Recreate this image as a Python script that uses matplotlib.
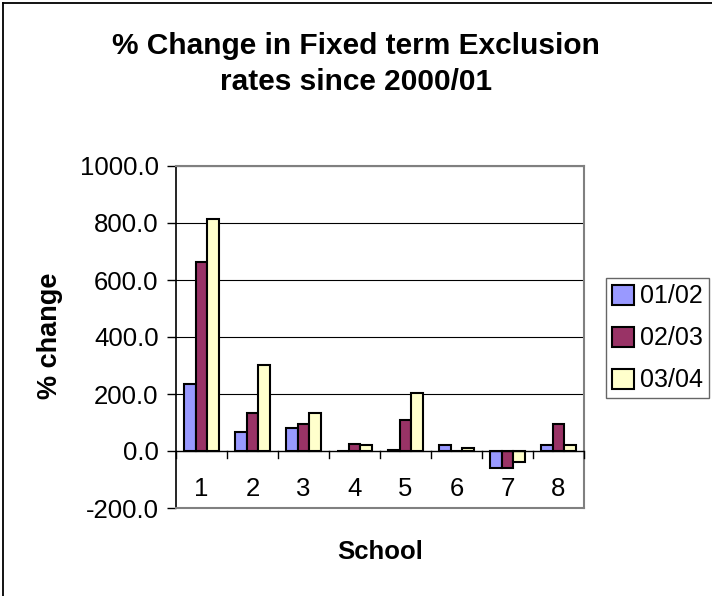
import numpy as np
import matplotlib.pyplot as plt
from matplotlib.transforms import offset_copy

plt.rcParams['font.family'] = ['Liberation Sans', 'DejaVu Sans']

schools = ['1', '2', '3', '4', '5', '6', '7', '8']
series_names = ['01/02', '02/03', '03/04']
chg_0102 = [235, 68, 82, 1, 2, 22, -60, 22]
chg_0203 = [664, 133, 94, 25, 108, 1, -60, 94]
chg_0304 = [813, 302, 134, 21, 202, 12, -37, 22]
colors = ['#9999FF', '#993366', '#FFFFCC']

W, H = 712, 596
fig = plt.figure(figsize=(W / 100, H / 100), dpi=100)
# plot area in pixels: left 176, right 584, top 166, bottom 508
ax = fig.add_axes([176 / W, 1 - 508 / H, (584 - 176) / W, (508 - 166) / H])

x = np.arange(len(schools))
bw = 0.23
for i, (vals, name) in enumerate(zip([chg_0102, chg_0203, chg_0304], series_names)):
    ax.bar(x + (i - 1) * bw, vals, width=bw, color=colors[i],
           edgecolor='black', linewidth=1.5, label=name, zorder=3)

ax.set_xlim(-0.5, len(schools) - 0.5)
ax.set_ylim(-200, 1000)
yt = np.arange(-200, 1001, 200)
ax.set_yticks(yt)
ax.set_yticklabels([f'{v:.1f}' for v in yt], fontsize=18.5)
for v in range(200, 1001, 200):
    ax.axhline(v, color='black', linewidth=0.8, zorder=1)

# category axis at zero
ax.axhline(0, color='black', linewidth=1.0, zorder=4)
ax.set_xticks([])
for k in range(len(schools) + 1):
    ax.plot([k - 0.5, k - 0.5], [0, -26], color='black', linewidth=1.0,
            clip_on=False, zorder=4)
lbl_tr = offset_copy(ax.transData, fig=fig, x=0, y=-19, units='points')
for k, s in enumerate(schools):
    ax.text(k, 0, s, ha='center', va='top', fontsize=18.5, transform=lbl_tr)

for side in ['top', 'right', 'bottom']:
    ax.spines[side].set_color('#808080')
    ax.spines[side].set_linewidth(1.5)
ax.spines['left'].set_color('black')
ax.spines['left'].set_linewidth(1.2)
ax.tick_params(axis='y', length=6.5, width=1.0, direction='out', pad=6)

fig.text(380 / W, 1 - 552 / H, 'School', ha='center', va='center',
         fontsize=18.5, fontweight='bold')
fig.text(50 / W, 1 - 336 / H, '% change', ha='center', va='center',
         fontsize=19.5, fontweight='bold', rotation=90)

fig.text(356 / W, 1 - 64 / H, '% Change in Fixed term Exclusion\nrates since 2000/01',
         ha='center', va='center', fontsize=21.5, fontweight='bold', linespacing=1.38)

leg = ax.legend(loc='upper left', bbox_to_anchor=(606 / W, 1 - 278 / H),
                bbox_transform=fig.transFigure, fontsize=18, frameon=True,
                fancybox=False, edgecolor='black', handlelength=0.85,
                handleheight=0.85, handletextpad=0.25, labelspacing=0.72,
                borderpad=0.25, borderaxespad=0)
leg.get_frame().set_linewidth(1.0)
leg.get_frame().set_edgecolor('#404040')

# outer chart border (left and top visible, right/bottom run off the image)
fig.add_artist(plt.Line2D([3 / W, 3 / W], [0, 1 - 3 / H], color='black', linewidth=1.3))
fig.add_artist(plt.Line2D([3 / W, 1], [1 - 3 / H, 1 - 3 / H], color='black', linewidth=1.3))

fig.savefig('out.png', dpi=100)
